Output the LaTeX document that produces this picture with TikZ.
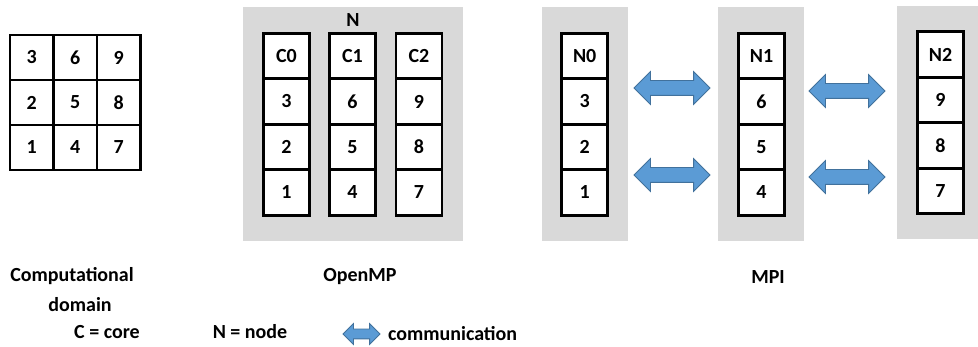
\documentclass[tikz,border=0pt]{standalone}
\usepackage{fontspec}
\setmainfont{Carlito}
\usepackage{tikz}
\usetikzlibrary{shapes.arrows, positioning, calc}
\definecolor{blockgray}{RGB}{217,217,217}
\definecolor{arrowblue}{RGB}{91,155,213}
\definecolor{arrowedge}{RGB}{65,113,156}

\begin{document}
\begin{tikzpicture}[
  x=1pt, y=-1pt,
  every node/.style={font=\fontsize{20}{24}\selectfont\bfseries},
  cell/.style={draw, fill=white, line width=2.8pt, minimum width=43.5pt, minimum height=45pt, inner sep=0pt, outer sep=0pt},
  tallcell/.style={cell, minimum width=46pt, minimum height=45.5pt},
  blockbg/.style={fill=blockgray, draw=none, inner sep=0pt},
  commarrow/.style={double arrow, draw=arrowedge, fill=arrowblue, line width=0.8pt, minimum height=76pt, minimum width=32pt, double arrow head extend=9pt, inner xsep=0pt, inner ysep=7pt},
]
  \useasboundingbox (0,0) rectangle (978,347);

  % Computational domain: 3x3 grid
  \foreach \c in {0,1,2}
    \foreach \r in {0,1,2} {
      \pgfmathtruncatemacro{\val}{3*\c+3-\r}
      \node[cell] (dom\c\r) at ({31.75+43.5*\c}, {57.5+45*\r}) {\val};
    }

  % OpenMP: one node, three cores
  \node[blockbg, minimum width=220pt, minimum height=234pt] (omp) at (353,124) {};
  \node (ompN) at (353,20.5) {N};
  \foreach \c/\x in {0/286.5, 1/352.5, 2/419} {
    \node[tallcell] (core\c) at (\x,56) {C\c};
    \foreach \r in {1,2,3} {
      \pgfmathtruncatemacro{\val}{3*\c+4-\r}
      \node[tallcell] (core\c-\r) at (\x, {56+45.5*\r}) {\val};
    }
  }

  % MPI: three nodes
  \node[blockbg, minimum width=86pt, minimum height=234pt] (mpi0) at (585,124) {};
  \node[blockbg, minimum width=86pt, minimum height=234pt] (mpi1) at (761,124) {};
  \node[blockbg, minimum width=81pt, minimum height=233pt] (mpi2) at (937.5,122.5) {};
  \foreach \n/\x/\y in {0/584.7/56, 1/761.5/56, 2/940.5/54.5} {
    \node[tallcell] (node\n) at (\x,\y) {N\n};
    \foreach \r in {1,2,3} {
      \pgfmathtruncatemacro{\val}{3*\n+4-\r}
      \node[tallcell] (node\n-\r) at (\x, {\y+45.5*\r}) {\val};
    }
  }

  % Exchange between neighbouring nodes
  \node[commarrow] (link01a) at (672,88) {};
  \node[commarrow] (link01b) at (672,175) {};
  \node[commarrow] (link12a) at (847,91) {};
  \node[commarrow] (link12b) at (847,177) {};

  % Captions
  \node (domlabel) at (72,276) {Computational};
  \node (domlabel2) at (80,305) {domain};
  \node (omplabel) at (360,277) {OpenMP};
  \node (mpilabel) at (768,277) {MPI};

  % Legend
  \node (lgcore) at (107,332) {C = core};
  \node (lgnode) at (250,332) {N = node};
  \node[commarrow, minimum height=37pt, minimum width=20pt, double arrow head extend=5.5pt, inner ysep=4.5pt] (lgarrow) at (361.5,334) {};
  \node[right=4pt of lgarrow] (lgcomm) {communication};
\end{tikzpicture}
\end{document}
